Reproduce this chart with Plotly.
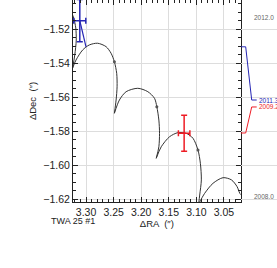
import plotly.graph_objects as go

# ---- data ----
# model track (arcs separated by None, cusps shared)
track_ra = [3.0159, 3.0213, 3.0262, 3.0364, 3.0517, 3.0699, 3.0850, 3.0959, None,
            3.0959, 3.0940, 3.0910, 3.0928, 3.0971, 3.1062, 3.1182, 3.1335, 3.1486, 3.1637, 3.1728, None,
            3.1728, 3.1680, 3.1668, 3.1680, 3.1717, 3.1759, 3.1880, 3.2062, 3.2273, 3.2395, 3.2486, None,
            3.2486, 3.2455, 3.2437, 3.2444, 3.2486, 3.2546, 3.2637, 3.2790, 3.2940, 3.3062, 3.3182, 3.3244, None,
            3.3244, 3.3204, 3.3177, 3.3186, 3.3222, 3.3268, 3.3322]
track_dec = [-1.6186, -1.6165, -1.6126, -1.6086, -1.6073, -1.6106, -1.6165, -1.6228, None,
             -1.6228, -1.6175, -1.6086, -1.5988, -1.5910, -1.5841, -1.5812, -1.5808, -1.5832, -1.5891, -1.5959, None,
             -1.5959, -1.5891, -1.5812, -1.5734, -1.5655, -1.5606, -1.5567, -1.5547, -1.5567, -1.5616, -1.5694, None,
             -1.5694, -1.5616, -1.5538, -1.5459, -1.5391, -1.5341, -1.5302, -1.5282, -1.5292, -1.5322, -1.5381, -1.5429, None,
             -1.5429, -1.5351, -1.5263, -1.5192, -1.5134, -1.5098, -1.5063]
mark_ra = [3.0971, 3.1717, 3.2486]
mark_dec = [-1.5910, -1.5655, -1.5391]

epochs = ["2011.3", "2009.2"]
obs_ra = [3.3113, 3.1222]
obs_dec = [-1.5149, -1.5812]
err_ra = [0.0109, 0.0104]
err_dec = [0.0124, 0.0106]
pred_ra = [3.3000, 3.1290]
pred_dec = [-1.5303, -1.5810]
colors = ["#2626b4", "#ee1c25"]

time_top, time_bottom = "2012.0", "2008.0"

x_ticks = [3.30, 3.25, 3.20, 3.15, 3.10, 3.05]
y_ticks = [-1.52, -1.54, -1.56, -1.58, -1.60, -1.62]

# ---- figure ----
fig = go.Figure()
fig.add_trace(go.Scatter(x=track_ra, y=track_dec, mode="lines",
                         line=dict(color="#333333", width=1, shape="spline", smoothing=0.8),
                         connectgaps=False, hoverinfo="skip", showlegend=False))
fig.add_trace(go.Scatter(x=mark_ra, y=mark_dec, mode="markers",
                         marker=dict(color="#555555", size=3), showlegend=False))

label_dec = [-1.5616, -1.5657]
for i in range(len(epochs)):
    c = colors[i]
    fig.add_trace(go.Scatter(x=[obs_ra[i], pred_ra[i]], y=[obs_dec[i], pred_dec[i]], mode="lines",
                             line=dict(color=c, width=1.2), showlegend=False))
    fig.add_trace(go.Scatter(x=[obs_ra[i]], y=[obs_dec[i]], mode="markers",
                             marker=dict(color=c, size=1),
                             error_x=dict(type="data", array=[err_ra[i]], color=c, thickness=1.5, width=3),
                             error_y=dict(type="data", array=[err_dec[i]], color=c, thickness=1.5, width=3),
                             showlegend=False))
    # connector to the timeline on the right
    fig.add_trace(go.Scatter(x=[0, 5, 11, 16], y=[pred_dec[i], pred_dec[i], label_dec[i], label_dec[i]],
                             xaxis="x2", yaxis="y", mode="lines", line=dict(color=c, width=1),
                             cliponaxis=False, showlegend=False))
    fig.add_annotation(x=17, y=label_dec[i], xref="x2", yref="y", text=epochs[i], showarrow=False,
                       xanchor="left", yanchor="middle", borderpad=0,
                       font=dict(size=6.5, color=c, family="Liberation Sans"))

fig.add_annotation(x=0.935, y=1 - 18 / 202, xref="paper", yref="paper", text=time_top, showarrow=False,
                   xanchor="center", yanchor="middle",
                   font=dict(size=6.5, color="#666666", family="Liberation Sans"))
fig.add_annotation(x=0.935, y=1 - 196 / 202, xref="paper", yref="paper", text=time_bottom, showarrow=False,
                   xanchor="center", yanchor="middle",
                   font=dict(size=6.5, color="#666666", family="Liberation Sans"))
fig.add_annotation(x=-24 / 204, y=-19 / 202, xref="paper", yref="paper", text="TWA 25 #1", showarrow=False,
                   xanchor="left", yanchor="middle",
                   font=dict(size=9, color="#222222", family="Liberation Sans"))

axis_common = dict(showline=True, linecolor="#222222", linewidth=1, mirror="ticks",
                   ticks="inside", ticklen=5, tickcolor="#222222", showgrid=True,
                   gridcolor="#dddddd", gridwidth=1, zeroline=False,
                   tickfont=dict(size=10.5, color="#222222", family="Liberation Sans"))

fig.update_layout(
    width=277, height=268,
    margin=dict(l=73, r=0, t=0, b=66),
    paper_bgcolor="white", plot_bgcolor="white",
    xaxis=dict(domain=[0, 167.7 / 204], range=[3.3236, 3.0197], tickvals=x_ticks,
               ticktext=[f"{v:.2f}" for v in x_ticks],
               minor=dict(dtick=0.01, ticks="inside", ticklen=3, tickcolor="#222222", showgrid=False),
               title=dict(text="ΔRA  (″)", font=dict(size=9.5, color="#222222", family="Liberation Sans"), standoff=0),
               **axis_common),
    yaxis=dict(range=[-1.6216, -1.50276], tickvals=y_ticks,
               ticktext=[f"−{abs(v):.2f}" for v in y_ticks],
               minor=dict(dtick=0.005, ticks="inside", ticklen=3, tickcolor="#222222", showgrid=False),
               title=dict(text="ΔDec  (″)", font=dict(size=9.5, color="#222222", family="Liberation Sans"), standoff=4),
               **axis_common),
    xaxis2=dict(domain=[167.7 / 204, 1], range=[0, 36.3], anchor="y", visible=False, fixedrange=True),
)

fig.write_html("out.html", config={"displayModeBar": False},
               post_script="document.body.style.margin='0';document.body.style.overflow='hidden';")
